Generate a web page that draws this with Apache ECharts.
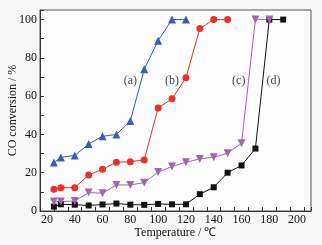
<!DOCTYPE html>
<html><head><meta charset="utf-8">
<script src="https://cdn.jsdelivr.net/npm/echarts@6/dist/echarts.min.js"></script>
<style>html,body{margin:0;padding:0;background:#f6f6f6;}#c{width:322px;height:245px;}</style>
</head><body><div id="c"></div>
<script>
const tA = [25,30,40,50,60,70,80,90,100,110,120];
const vA = [25.3,28,29,35,39,40,47,74,89,100,100];
const tB = [25,30,40,50,60,70,80,90,100,110,120,130,140,150];
const vB = [11.4,12.2,12.2,18.8,21.8,25.5,25.7,26.7,53.8,58.6,69.6,95.3,100,100];
const tC = [25,30,40,50,60,70,80,90,100,110,120,130,140,150,160,170,180];
const vC = [4.9,4.9,5.2,9.6,9.3,13.6,13.6,14.8,20.4,23.2,25.5,27.2,28.1,30.2,35.4,100,100];
const tD = [25,30,40,50,60,70,80,90,100,110,120,130,140,150,160,170,180,190];
const vD = [2.3,3.5,3.3,2.9,3.4,3.9,3.3,3.2,3.7,3.5,3.5,8.8,12.4,20,23.8,32.6,100,100];
const labels = [['(a)',80,68],['(b)',110,68],['(c)',158,68],['(d)',183,68]];
const xTicks = [20,40,60,80,100,120,140,160,180,200];
const yTicks = [0,20,40,60,80,100];

const zip = (t,v)=>t.map((x,i)=>[x,v[i]]);
const font = 'Liberation Serif';
const chart = echarts.init(document.getElementById('c'),null,{renderer:'canvas'});
function ser(name,t,v,color,symbol,size){
  return {name,type:'line',data:zip(t,v),symbol,symbolSize:size,
    lineStyle:{color,width:1},itemStyle:{color},z:3};
}
const s = [
  ser('d',tD,vD,'#111111','rect',6),
  ser('c',tC,vC,'#a465b0',"path://M0,0 L10,0 L5,9 Z",8),
  ser('b',tB,vB,'#e8302c','circle',7),
  ser('a',tA,vA,'#3a5eab','triangle',8),
];
s.push({type:'scatter',data:labels.map(l=>({value:[l[1],l[2]],name:l[0]})),symbolSize:0,
  label:{show:true,position:'inside',formatter:p=>p.name,color:'#111',fontFamily:font,fontSize:12},silent:true,z:5});
const tickAxis = (min,max)=>({type:'value',min,max,interval:10,
    axisLine:{show:false},axisLabel:{show:false},splitLine:{show:false},
    axisTick:{show:true,inside:true,length:4,lineStyle:{color:'#333'}}});
chart.setOption({
  animation:false,
  backgroundColor:'#f6f6f6',
  grid:{left:40,right:11,top:10,bottom:34,show:true,backgroundColor:'#fcfcfc',borderColor:'#555',borderWidth:1,
    containLabel:false,outerBoundsMode:'none'},
  xAxis:[{type:'value',min:15,max:210,interval:5,
    name:'Temperature / ℃',nameLocation:'middle',nameGap:16,nameMoveOverlap:false,
    nameTextStyle:{fontFamily:font,fontSize:12,color:'#111'},
    axisLine:{lineStyle:{color:'#333',width:1}},
    axisTick:{show:false},
    splitLine:{show:false},
    axisLabel:{fontFamily:font,fontSize:12,color:'#111',margin:3,
      formatter:v=>xTicks.includes(v)?String(v):''}},
    Object.assign(tickAxis(15,210),{position:'bottom'})],
  yAxis:[{type:'value',min:0,max:105,interval:5,
    name:'CO conversion / %',nameLocation:'middle',nameGap:21,nameMoveOverlap:false,
    nameTextStyle:{fontFamily:font,fontSize:12,color:'#111'},
    axisLine:{lineStyle:{color:'#333',width:1}},
    axisTick:{show:false},
    splitLine:{show:false},
    axisLabel:{fontFamily:font,fontSize:12,color:'#111',margin:3,
      formatter:v=>yTicks.includes(v)?String(v):''}},
    Object.assign(tickAxis(0,105),{position:'left'})],
  series:s
});
</script></body></html>
